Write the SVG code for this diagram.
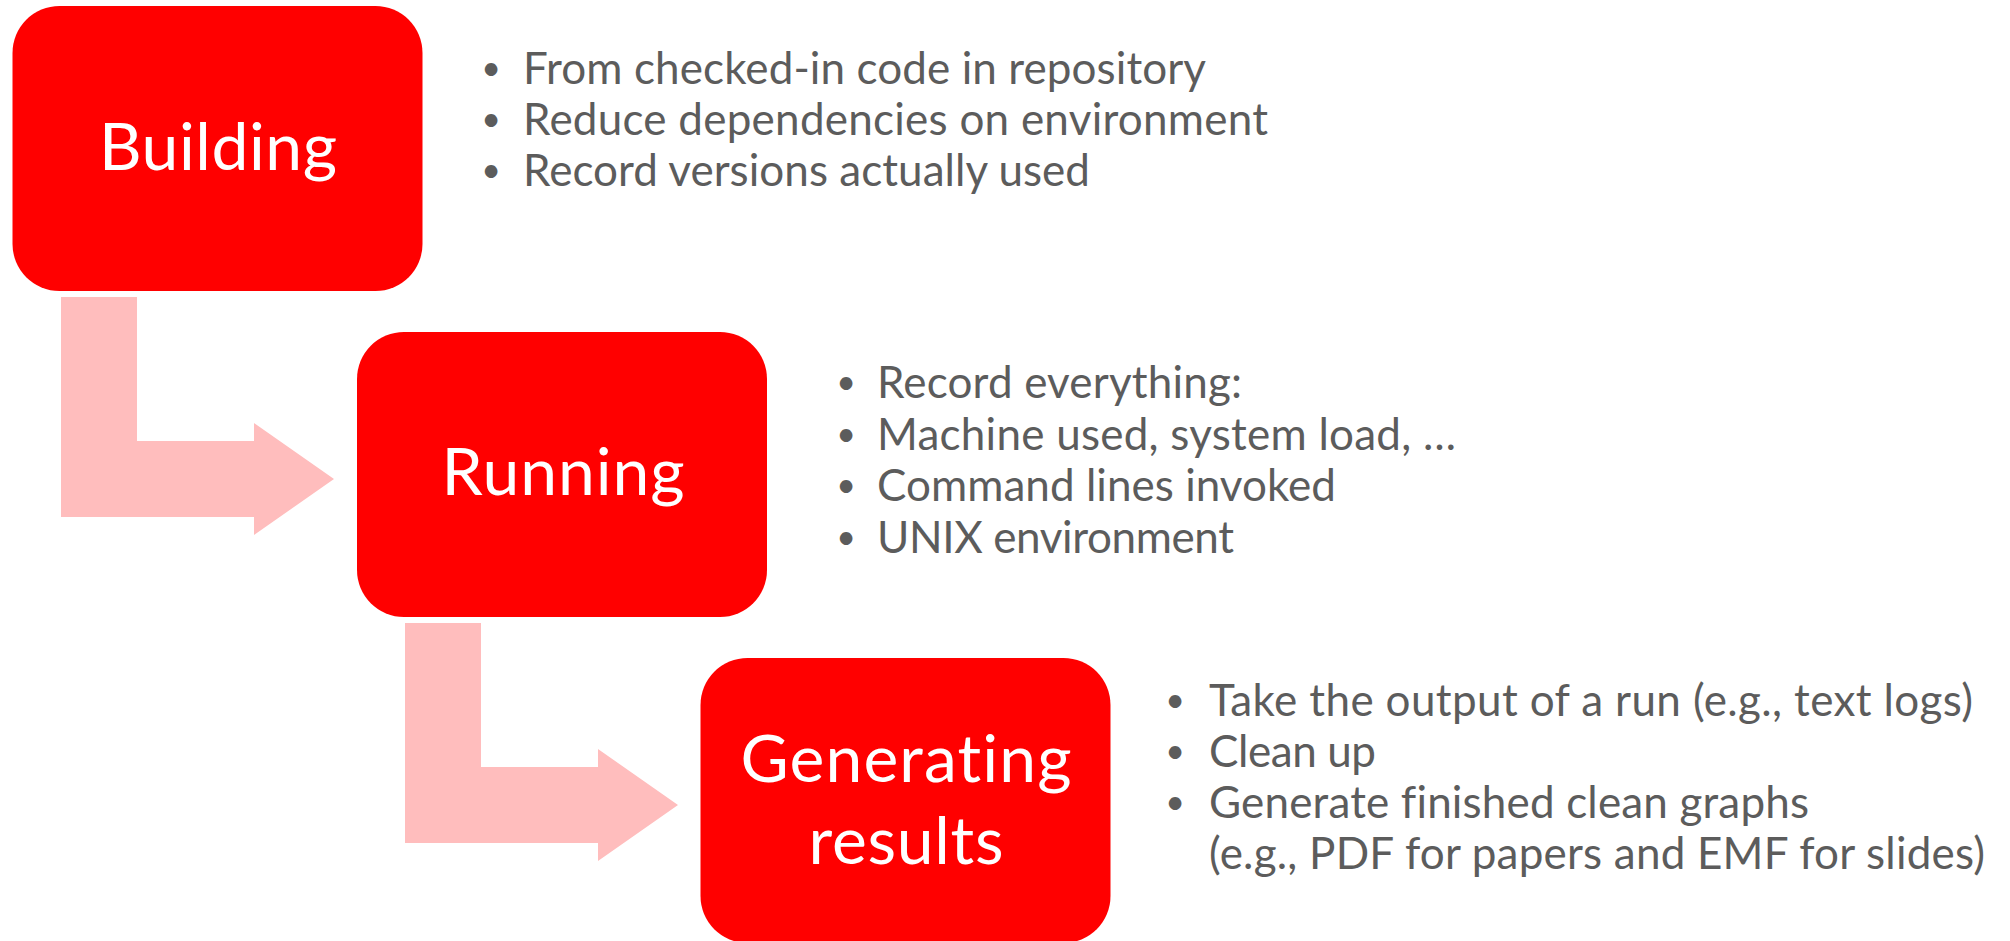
<svg xmlns="http://www.w3.org/2000/svg" width="2010" height="941" viewBox="0 0 2010 941">
  <style>
    text { font-variant-ligatures: none; font-feature-settings: "liga" 0, "clig" 0; }
    .box { fill: #FF0000; }
    .title { font-family: Lato, "Liberation Sans", sans-serif; font-size: 66px; fill: #FFFFFF; text-anchor: middle; }
    .item { font-family: Lato, "Liberation Sans", sans-serif; font-size: 44px; fill: #5C5C5C; }
    .dot { font-family: Lato, "Liberation Sans", sans-serif; font-size: 34px; fill: #5C5C5C; text-anchor: middle; }
    .flow { fill: #FFBDBD; }
  </style>
  <rect width="2010" height="941" fill="#FFFFFF"/>

  <!-- bent arrows between the stages -->
  <g id="connectors">
    <polygon class="flow" points="61,297 137,297 137,441 254,441 254,423 334,479 254,535 254,517 61,517"/>
    <polygon class="flow" points="405,623 481,623 481,767 598,767 598,749 678,805 598,861 598,843 405,843"/>
  </g>

  <g id="building">
    <rect class="box" x="12.5" y="6" width="410" height="285" rx="47" ry="47"/>
    <text class="title" x="218" y="170" textLength="238">Building</text>
    <text class="dot" x="491" y="80">•</text>
    <text class="item" x="523" y="84" textLength="683">From checked-in code in repository</text>
    <text class="dot" x="491" y="131">•</text>
    <text class="item" x="523" y="135" textLength="745">Reduce dependencies on environment</text>
    <text class="dot" x="491" y="182">•</text>
    <text class="item" x="523" y="186" textLength="567">Record versions actually used</text>
  </g>

  <g id="running">
    <rect class="box" x="357" y="332" width="410" height="285" rx="47" ry="47"/>
    <text class="title" x="563" y="495" textLength="243">Running</text>
    <text class="dot" x="846" y="394">•</text>
    <text class="item" x="877" y="398" textLength="365">Record everything:</text>
    <text class="dot" x="846" y="446">•</text>
    <text class="item" x="877" y="450" textLength="579">Machine used, system load, …</text>
    <text class="dot" x="846" y="497">•</text>
    <text class="item" x="877" y="501" textLength="459">Command lines invoked</text>
    <text class="dot" x="846" y="549">•</text>
    <text class="item" x="877" y="553" textLength="357">UNIX environment</text>
  </g>

  <g id="generating">
    <rect class="box" x="700.5" y="658" width="410" height="285" rx="47" ry="47"/>
    <text class="title" x="906" y="782" textLength="331">Generating</text>
    <text class="title" x="906" y="864" textLength="195">results</text>
    <text class="dot" x="1175" y="712">•</text>
    <text class="item" x="1209" y="716" textLength="764">Take the output of a run (e.g., text logs)</text>
    <text class="dot" x="1175" y="763">•</text>
    <text class="item" x="1209" y="767" textLength="167">Clean up</text>
    <text class="dot" x="1175" y="814">•</text>
    <text class="item" x="1209" y="818" textLength="600">Generate finished clean graphs</text>
    <text class="item" x="1209" y="869" textLength="776">(e.g., PDF for papers and EMF for slides)</text>
  </g>
</svg>
